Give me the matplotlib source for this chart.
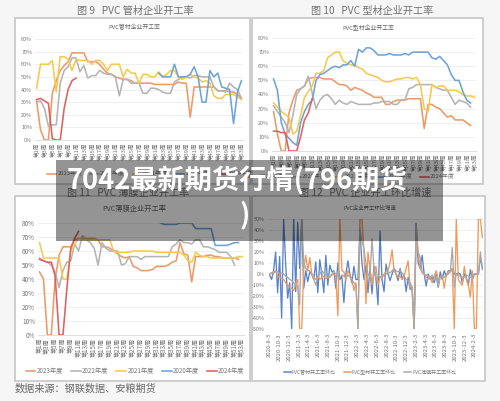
import numpy as np
import matplotlib
matplotlib.use("Agg")
import matplotlib.pyplot as plt
from matplotlib.patches import Rectangle
from matplotlib.lines import Line2D

plt.rcParams['font.family'] = ['Noto Sans CJK SC', 'DejaVu Sans']

W, H = 500, 401

# ---------- data ----------
week_ticks = list(range(1, 54, 2))
year_labels = ['2023年度', '2022年度', '2021年度', '2020年度', '2024年度']

pipe_2023 = [31,8,0,0,37,47,55,59,62,69,69,69,69,62,62,62,60,56,53,52,50,49,48,48,47,45,45,45,45,45,44,44,44,44,44,44,46,45,45,18,42,42,42,42,42,42,39,39,39,38,38,36,33]
pipe_2022 = [30,31,25,11,12,12,45,55,58,65,65,54,59,49,51,51,55,53,52,52,50,35,48,48,45,45,45,37,37,41,41,40,38,37,37,46,48,50,50,49,51,51,50,50,50,42,39,39,38,45,42,40,33]
pipe_2021 = [41,60,60,60,63,38,66,66,64,55,64,63,63,63,60,63,63,60,55,60,60,60,50,56,53,53,45,52,52,50,50,54,50,52,55,55,50,48,50,52,50,49,46,47,45,35,33,33,36,36,36,34,32]
pipe_2020 = [None]*31 + [53,50,50,50,60,50,50,50,52,58,50,30,30,55,50,53,42,41,40,13,38,47]
pipe_2024 = [32,33,31,29,1,0,0,25,40,47,49]

prof_2023 = [28,12,0,0,27,36,43,44,46,51,52,52,52,51,51,51,49,47,47,46,43,45,44,43,41,40,38,38,38,33,33,35,36,36,36,37,37,37,37,16,33,33,31,30,27,24,25,22,22,22,20,18]
prof_2022 = [32,28,24,20,13,25,40,44,46,53,41,30,36,39,40,37,33,36,34,33,35,34,33,33,33,33,34,34,35,35,35,33,33,36,36,44,45,47,47,47,47,47,45,44,43,43,38,33,36,35,34,31]
prof_2021 = [34,31,28,26,24,12,14,25,38,42,46,55,55,57,66,68,70,70,64,62,61,61,59,58,55,54,53,52,50,49,49,50,51,51,52,52,51,52,47,30,28,47,45,46,46,43,43,43,42,40,39,39,38]
prof_2020 = [51,43,20,12,9,6,4,20,28,33,36,50,54,55,57,59,60,59,61,61,64,60,72,70,73,73,71,68,68,68,69,68,68,68,69,68,70,70,70,70,70,66,65,67,64,61,54,50,50,42,36,34]
prof_2024 = [14,14,13,13,0,0,0,10,22,27,37]

film_2023 = [45,40,0,0,40,57,63,63,63,68,69,69,69,69,69,68,63,63,62,60,58,56,55,56,49,48,46,46,46,47,49,49,49,50,52,53,66,58,57,38,56,56,56,57,57,56,56,55,55,55,55,54]
film_2022 = [55,53,52,50,45,34,46,52,53,65,60,71,68,66,62,50,66,62,60,60,60,50,51,56,56,56,54,56,56,56,56,56,56,56,63,65,68,66,66,65,68,68,63,63,62,61,59,59,59,56,50]
film_2021 = [66,55,55,55,55,55,40,40,60,65,69,68,68,68,68,68,68,68,68,60,59,59,59,59,60,60,60,60,60,60,59,59,59,59,59,59,59,57,53,52,59,57,56,56,55,55,55,55,55,55,55,56,56]
film_2020 = [None]*31 + [80,79,79,79,79,80,80,80,80,76,76,76,76,76,64,64,64,64,65,66,66]
film_2024 = [54,53,52,52,42,0,0,33,62,69,74]

date_labels = ['2020-8-3','2020-10-3','2020-12-3','2021-2-3','2021-4-3','2021-6-3','2021-8-3','2021-10-3','2021-12-3',
               '2022-2-3','2022-4-3','2022-6-3','2022-8-3','2022-10-3','2022-12-3',
               '2023-2-3','2023-4-3','2023-6-3','2023-8-3','2023-10-3','2023-12-3','2024-2-3']
mom_pipe = [-1,-5,3,20,-17,16,-40,50,9,-22,-8,-50,50,-16,47,5,50,-13,3,-7,2,0,-5,11,-17,13,0,-17,17,-10,8,2,3,-13,10,-5,-2,-26,0,12,0,-8,7,-5,-5,40,10,-5,8,-17,5,-18,7,-5,-28,39,-5,-16,9,0,-6,0,5,0,-6,5,-5,0,-16,-3,-14,-12,-50,46,10,5,17,0,-11,0,-5,-3,-8,0,-12,2,-5,3,-2,3,2,5,0,0,1,0,-8,0,-3,-10,4,-5,0,0,0,15,5]
mom_prof = [0,1,2,3,-2,-3,-4,-5,-8,-10,-12,-13,-15,-8,-5,-50,-50,5,17,3,15,0,-3,-5,-2,-5,-3,-2,-4,-3,-3,-1,0,-2,-38,50,3,2,-6,3,-1,-5,-15,-8,-50,50,50,20,-27,20,5,-10,2,7,-10,-3,-3,0,2,3,10,22,3,0,-3,-2,-5,-2,5,12,-12,-14,-50,33,20,5,1,0,-3,-5,-3,-8,-2,3,-5,-3,-1,-13,-1,2,3,5,-50,50,-5,-8,-10,7,-5,-10,-21,3,-50,-50,50,50,33]
mom_film = [0,1,1,2,2,0,1,0,-2,-3,-5,-6,-8,-10,-12,-28,50,10,5,3,3,0,-5,-10,-2,0,3,1,-1,-2,-3,0,2,0,-1,-3,-1,-2,-3,-1,-3,-5,-8,-10,-50,42,30,23,10,0,-3,32,5,-5,-2,-3,-1,-2,0,2,1,3,5,3,2,3,1,-2,-5,-6,-8,-12,-50,46,20,15,2,0,-1,-2,-3,-1,-5,-2,-12,-3,-2,-3,-1,0,2,24,-12,0,-1,-2,-3,-3,-1,-2,-3,-2,-1,0,0,20,4]

# ---------- styles ----------
C_OR, C_GR, C_YE, C_BL, C_RE = '#EC9A68', '#B4B4B4', '#F6C94E', '#6EA3D6', '#E0605F'
LINE_ORDER = [C_OR, C_GR, C_YE, C_BL, C_RE]
TXT = '#747474'

fig = plt.figure(figsize=(W/100, H/100), dpi=100, facecolor='#f6f6f6')

def frac(l, t, r, b):
    return [l/W, 1-b/H, (r-l)/W, (b-t)/H]

bg = fig.add_axes([0, 0, 1, 1], zorder=0)
bg.set_xlim(0, W); bg.set_ylim(H, 0); bg.axis('off')
for (l, t, r, b) in [(15, 18, 250, 184), (252, 18, 483, 184), (15, 196, 250, 381), (252, 196, 485, 381)]:
    bg.add_patch(Rectangle((l, t), r-l, b-t, fc='white', ec='#c6c6c6', lw=1.2))
bg.text(135, 11, '图 9   PVC 管材企业开工率', ha='center', va='center', fontsize=7.3, color='#707070')
bg.text(372, 11, '图 10   PVC 型材企业开工率', ha='center', va='center', fontsize=7.3, color='#707070')
bg.text(128, 193, '图 11   PVC 薄膜企业开工率', ha='center', va='center', fontsize=7.3, color='#707070')
bg.text(365, 193, '图 12   PVC 企业开工环比增速', ha='center', va='center', fontsize=7.3, color='#707070')
bg.text(15, 388.5, '数据来源：钢联数据、安粮期货', ha='left', va='center', fontsize=7.3, color='#666666')

def week_panel(box, series, title, title_xy, legend_xy, title_size=4.2, ytick_size=3.9, xtick_size=4.1, leg_size=4.2):
    ax = fig.add_axes(frac(*box), zorder=1)
    ax.patch.set_alpha(0)
    for vals, c in zip(series, LINE_ORDER):
        v = np.array(vals, dtype=float)
        ax.plot(np.arange(1, len(v)+1), v, color=c, lw=1.15, solid_joinstyle='round')
    ax.set_xlim(0.6, 53.4)
    ax.set_ylim(0, 80)
    ax.set_yticks(range(0, 81, 10))
    ax.set_yticklabels([f'{v}%' for v in range(0, 81, 10)], fontsize=ytick_size, color=TXT)
    ax.set_xticks(week_ticks)
    ax.set_xticklabels([f'第{w}周' for w in week_ticks], fontsize=xtick_size, color=TXT, rotation=90)
    ax.tick_params(length=0, pad=2)
    ax.grid(axis='y', color='#ececec', lw=0.6)
    ax.set_axisbelow(True)
    for s in ('top', 'right', 'left'):
        ax.spines[s].set_visible(False)
    ax.spines['bottom'].set_color('#d9d9d9')
    ax.spines['bottom'].set_linewidth(0.6)
    bg.text(title_xy[0], title_xy[1], title, ha='center', va='center', fontsize=title_size, color='#666666')
    handles = [Line2D([], [], color=c, lw=1.15) for c in LINE_ORDER]
    fig.legend(handles, year_labels, loc='center', ncol=5, frameon=False, fontsize=leg_size,
               labelcolor='#777777', handlelength=1.55, columnspacing=1.3, handletextpad=0.2,
               borderpad=0, borderaxespad=0,
               bbox_to_anchor=(legend_xy[0]/W, 1-legend_xy[1]/H))
    return ax

week_panel((35, 39, 243, 140), [pipe_2023, pipe_2022, pipe_2021, pipe_2020, pipe_2024],
           'PVC管材企业开工率', (134, 27), (150, 174))
week_panel((272, 38, 476, 151), [prof_2023, prof_2022, prof_2021, prof_2020, prof_2024],
           'PVC型材企业开工率', (368, 28), (352, 177))
week_panel((38, 223, 244, 335), [film_2023, film_2022, film_2021, film_2020, film_2024],
           'PVC薄膜企业开工率', (134, 209), (135, 371),
           title_size=5.2, ytick_size=4.6, xtick_size=4.4, leg_size=4.5)

# panel 4
ax4 = fig.add_axes(frac(269, 219, 483, 329), zorder=1)
ax4.patch.set_alpha(0)
C4 = ['#5B84C8', '#EE9A5C', '#A9A9A9']
for vals, c in zip([mom_pipe, mom_prof, mom_film], C4):
    ax4.plot(np.arange(len(vals)), vals, color=c, lw=0.95, solid_joinstyle='round')
step = 29.2/6
tick_pos = np.arange(len(date_labels))*step
ax4.set_xlim(-0.3, 106.3)
ax4.set_ylim(-50, 50)
ax4.set_yticks(range(-50, 51, 10))
ax4.set_yticklabels([f'{v}%' for v in range(-50, 51, 10)], fontsize=3.9, color=TXT)
ax4.set_xticks(tick_pos)
ax4.set_xticklabels(date_labels, fontsize=4.3, color=TXT, rotation=90)
ax4.tick_params(length=0, pad=3)
ax4.grid(axis='y', color='#ececec', lw=0.6)
ax4.set_axisbelow(True)
for s in ax4.spines.values():
    s.set_visible(False)
bg.text(370, 208, 'PVC企业开工环比增速', ha='center', va='center', fontsize=3.9, color='#666666')
fig.legend([Line2D([], [], color=c, lw=1.1) for c in C4],
           ['PVC管材开工率环比', 'PVC型材开工率环比', 'PVC薄膜开工率环比'],
           loc='center', ncol=3, frameon=False, fontsize=3.6, labelcolor='#777777',
           handlelength=1.45, columnspacing=1.6, handletextpad=0.15, borderpad=0, borderaxespad=0,
           bbox_to_anchor=(370/W, 1-372.5/H))

# banner overlay
top = fig.add_axes([0, 0, 1, 1], zorder=10)
top.set_xlim(0, W); top.set_ylim(H, 0); top.axis('off')
top.add_patch(Rectangle((56, 160), 387, 81, fc='black', ec='none', alpha=0.42))
top.text(67, 181, '7042最新期货行情(796期货', ha='left', va='center', fontsize=19.6, fontweight='bold', color='white')
top.text(245, 215, ')', ha='center', va='center', fontsize=19.6, fontweight='bold', color='white')

fig.savefig('out.png', dpi=100, facecolor=fig.get_facecolor())
